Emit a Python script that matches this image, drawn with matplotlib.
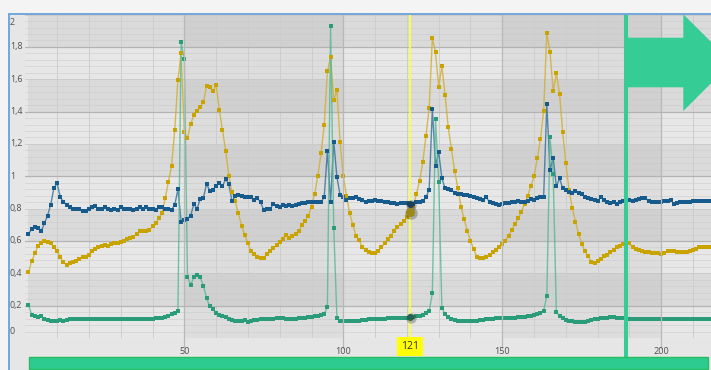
import numpy as np
import matplotlib
matplotlib.use("Agg")
import matplotlib.pyplot as plt
from matplotlib.patches import Rectangle, Polygon
from matplotlib.lines import Line2D
import matplotlib.transforms as mtransforms

plt.rcParams['font.family'] = ['Open Sans', 'DejaVu Sans']

# ---------------- data ----------------
x_start = 1
blue = [0.643, 0.674, 0.689, 0.680, 0.660, 0.709, 0.757, 0.825, 0.928, 0.957,
        0.870, 0.843, 0.823, 0.812, 0.798, 0.798, 0.798, 0.787, 0.787, 0.800,
        0.810, 0.814, 0.800, 0.800, 0.810, 0.800, 0.794, 0.795, 0.790, 0.810,
        0.800, 0.800, 0.795, 0.790, 0.800, 0.810, 0.798, 0.810, 0.800, 0.798,
        0.794, 0.812, 0.808, 0.800, 0.798, 0.794, 0.823, 0.920, 0.720, 0.732,
        0.736, 0.757, 0.829, 0.798, 0.860, 0.866, 0.952, 0.911, 0.917, 0.942,
        0.959, 0.938, 0.983, 0.950, 0.845, 0.880, 0.886, 0.880, 0.874, 0.874,
        0.874, 0.853, 0.866, 0.839, 0.790, 0.798, 0.798, 0.829, 0.818, 0.808,
        0.823, 0.814, 0.825, 0.818, 0.823, 0.829, 0.833, 0.833, 0.839, 0.843,
        0.843, 0.839, 0.839, 0.870, 1.159, 0.839, 1.214, 0.994, 0.884, 0.870,
        0.853, 0.866, 0.866, 0.870, 0.860, 0.853, 0.839, 0.849, 0.845, 0.853,
        0.849, 0.845, 0.839, 0.839, 0.833, 0.833, 0.829, 0.835, 0.835, 0.835,
        0.829, 0.829, 0.839, 0.839, 0.845, 0.870, 0.917, 1.416, 1.066, 1.148,
        0.987, 0.926, 0.921, 0.917, 0.897, 0.890, 0.890, 0.886, 0.886, 0.876,
        0.870, 0.864, 0.860, 0.853, 0.870, 0.839, 0.833, 0.829, 0.825, 0.829,
        0.833, 0.835, 0.839, 0.839, 0.845, 0.843, 0.839, 0.849, 0.860, 0.855,
        0.864, 0.870, 0.874, 1.447, 1.039, 1.113, 0.938, 0.987, 0.926, 0.917,
        0.900, 0.895, 0.907, 0.897, 0.890, 0.874, 0.866, 0.860, 0.855, 0.849,
        0.870, 0.853, 0.839, 0.833, 0.839, 0.829, 0.839, 0.849, 0.851, 0.853,
        0.850, 0.855, 0.860, 0.864, 0.866, 0.845, 0.842, 0.839, 0.839, 0.839,
        0.845, 0.849, 0.853, 0.829, 0.835, 0.839, 0.839, 0.839, 0.842, 0.845,
        0.847, 0.849, 0.847, 0.845, 0.845]

gold = [0.406, 0.474, 0.524, 0.571, 0.585, 0.602, 0.592, 0.590, 0.560, 0.540,
        0.500, 0.468, 0.454, 0.462, 0.468, 0.478, 0.489, 0.499, 0.503, 0.515,
        0.536, 0.550, 0.561, 0.567, 0.575, 0.571, 0.581, 0.590, 0.585, 0.592,
        0.602, 0.612, 0.618, 0.627, 0.643, 0.660, 0.664, 0.664, 0.668, 0.690,
        0.710, 0.740, 0.775, 0.864, 0.967, 1.064, 1.288, 1.598, 1.760, 1.272,
        1.237, 1.323, 1.379, 1.406, 1.427, 1.457, 1.556, 1.554, 1.525, 1.565,
        1.412, 1.286, 1.159, 1.004, 0.900, 0.845, 0.771, 0.695, 0.637, 0.585,
        0.536, 0.520, 0.503, 0.495, 0.495, 0.520, 0.540, 0.557, 0.575, 0.596,
        0.612, 0.639, 0.618, 0.633, 0.643, 0.660, 0.699, 0.726, 0.757, 0.812,
        0.890, 1.004, 1.142, 1.319, 1.649, 1.736, 1.472, 1.534, 1.210, 1.000,
        0.880, 0.771, 0.700, 0.633, 0.606, 0.561, 0.544, 0.534, 0.528, 0.528,
        0.536, 0.561, 0.585, 0.612, 0.633, 0.664, 0.684, 0.705, 0.721, 0.746,
        0.781, 0.818, 0.890, 0.973, 1.086, 1.251, 1.422, 1.855, 1.767, 1.554,
        1.680, 1.505, 1.303, 1.169, 1.035, 0.930, 0.812, 0.736, 0.660, 0.602,
        0.550, 0.503, 0.495, 0.495, 0.499, 0.515, 0.530, 0.545, 0.560, 0.580,
        0.602, 0.633, 0.668, 0.705, 0.742, 0.781, 0.830, 0.880, 0.940, 1.000,
        1.111, 1.231, 1.402, 1.884, 1.771, 1.525, 1.639, 1.510, 1.272, 1.080,
        0.915, 0.804, 0.720, 0.643, 0.581, 0.536, 0.505, 0.470, 0.462, 0.478,
        0.490, 0.505, 0.515, 0.530, 0.545, 0.560, 0.571, 0.582, 0.592, 0.585,
        0.561, 0.550, 0.544, 0.536, 0.533, 0.530, 0.528, 0.528, 0.524, 0.520,
        0.528, 0.536, 0.540, 0.535, 0.530, 0.530, 0.530, 0.530, 0.537, 0.544,
        0.552, 0.561, 0.565, 0.565, 0.561]

green = [0.206, 0.144, 0.138, 0.128, 0.134, 0.117, 0.111, 0.107, 0.107, 0.107,
         0.111, 0.107, 0.113, 0.117, 0.115, 0.115, 0.117, 0.117, 0.115, 0.115,
         0.117, 0.117, 0.115, 0.115, 0.117, 0.115, 0.115, 0.117, 0.117, 0.115,
         0.117, 0.117, 0.117, 0.115, 0.117, 0.117, 0.117, 0.117, 0.119, 0.119,
         0.121, 0.124, 0.126, 0.130, 0.136, 0.148, 0.155, 0.169, 1.829, 1.725,
         0.375, 0.330, 0.375, 0.390, 0.375, 0.324, 0.247, 0.196, 0.179, 0.155,
         0.142, 0.134, 0.128, 0.117, 0.111, 0.107, 0.107, 0.103, 0.111, 0.097,
         0.107, 0.111, 0.111, 0.117, 0.117, 0.115, 0.117, 0.120, 0.122, 0.124,
         0.122, 0.120, 0.117, 0.117, 0.120, 0.122, 0.124, 0.126, 0.128, 0.132,
         0.135, 0.138, 0.143, 0.150, 0.190, 1.927, 0.680, 0.124, 0.107, 0.107,
         0.105, 0.103, 0.103, 0.105, 0.107, 0.111, 0.113, 0.115, 0.117, 0.117,
         0.117, 0.119, 0.120, 0.122, 0.124, 0.124, 0.124, 0.124, 0.124, 0.126,
         0.128, 0.130, 0.133, 0.138, 0.145, 0.152, 0.165, 0.276, 1.354, 0.963,
         0.186, 0.148, 0.128, 0.117, 0.111, 0.107, 0.105, 0.103, 0.103, 0.103,
         0.105, 0.107, 0.109, 0.111, 0.115, 0.117, 0.120, 0.122, 0.122, 0.122,
         0.124, 0.124, 0.124, 0.126, 0.128, 0.130, 0.132, 0.134, 0.138, 0.142,
         0.148, 0.153, 0.169, 0.262, 1.241, 1.014, 0.163, 0.134, 0.122, 0.111,
         0.107, 0.103, 0.100, 0.097, 0.097, 0.100, 0.105, 0.110, 0.115, 0.120,
         0.124, 0.126, 0.126, 0.128, 0.128, 0.126, 0.124, 0.122, 0.120, 0.119,
         0.118, 0.118, 0.117, 0.117, 0.117, 0.117, 0.117, 0.118, 0.118, 0.117,
         0.117, 0.117, 0.118, 0.117, 0.117, 0.117, 0.117, 0.117, 0.117, 0.118,
         0.117, 0.117, 0.117, 0.117, 0.117]

cursor_x = 121
cursor_label = "121"
marker_x = 189
y_ticks = [0, 0.2, 0.4, 0.6, 0.8, 1.0, 1.2, 1.4, 1.6, 1.8, 2.0]
y_tick_labels = ["0", "0,2", "0,4", "0,6", "0,8", "1", "1,2", "1,4", "1,6", "1,8", "2"]
x_ticks = [50, 100, 150, 200]
x_tick_labels = ["50", "100", "150", "200"]

# ---------------- layout ----------------
W, H = 711, 370
def fx(px):
    return px / W
def fy(py):
    return 1 - py / H

n = min(len(blue), len(gold), len(green))
x = np.arange(x_start, x_start + n)

fig = plt.figure(figsize=(W / 100, H / 100), dpi=100, facecolor='#f4f4f4')

# widget frame
fig.patches.append(Rectangle((fx(9), fy(375)), fx(720) - fx(9), fy(14) - fy(375),
                             transform=fig.transFigure, facecolor='#e6e6e6',
                             edgecolor='#72a7d8', lw=1.4, zorder=-5))

ax_left, ax_right, ax_top, ax_bottom = 25.3, 711, 14.6, 338
ax = fig.add_axes([fx(ax_left), fy(ax_bottom), fx(ax_right) - fx(ax_left), fy(ax_top) - fy(ax_bottom)])
ax.set_xlim(0, (ax_right - ax_left) / 3.18)
ax.set_ylim(0, 2)
ax.set_facecolor('#e7e7e7')
for s in ax.spines.values():
    s.set_visible(False)
ax.set_xticks([])
ax.set_yticks([])

xmax = ax.get_xlim()[1]
band_start = 0.85 / xmax
# horizontal bands
for y0 in np.arange(0.2, 2.0, 0.4):
    ax.axhspan(y0, y0 + 0.2, xmin=band_start, color='black', alpha=0.055, lw=0, zorder=0)
# vertical bands
for a in (50, 150):
    ax.axvspan(a, a + 50, color='black', alpha=0.045, lw=0, zorder=0)

# minor horizontal grid
for yv in np.arange(0.04, 2.0, 0.04):
    if abs(yv / 0.2 - round(yv / 0.2)) > 1e-6:
        ax.axhline(yv, color='#c9c9c9', lw=0.5, alpha=0.7, zorder=0.5)
for i, yv in enumerate(y_ticks):
    if i % 2 == 1:
        ax.axhline(yv, color='#b3b3b3', lw=0.9, zorder=0.6)
    else:
        ax.axhline(yv, color='#cacaca', lw=0.6, zorder=0.6)
# vertical grid
for xv in range(10, int(xmax) + 1, 10):
    if xv % 50 == 0:
        continue
    ax.axvline(xv, color='#cdcdcd', lw=0.7, zorder=0.5)
trans_xfig = mtransforms.blended_transform_factory(ax.transData, fig.transFigure)
for xv in x_ticks:
    fig.add_artist(Line2D([xv, xv], [fy(ax_top), fy(348)], transform=trans_xfig,
                          color='#b8b8b8', lw=0.9, zorder=0.7))

# ---------------- series ----------------
series = [(gold, '#c9a300', '#d0ad2c'),
          (blue, '#175a8c', '#2f6d9c'),
          (green, '#2a9c7a', '#52b893')]
for vals, mcol, lcol in series:
    v = np.asarray(vals[:n])
    ax.plot(x, v, color=lcol, lw=1.0, alpha=0.8, zorder=2)
    ax.plot(x, v, ls='none', marker='s', ms=2.5, color=mcol, mew=0, zorder=2.5)

# cursor line
ax.axvline(cursor_x, color='#ffff3c', lw=1.3, zorder=3)
ci = cursor_x - x_start
for vals, col, size in [(gold, '#9c8a18', 6.5), (blue, '#1c3f5e', 5.0), (green, '#25644f', 5.0)]:
    yv = vals[ci]
    ax.plot([cursor_x + 0.35], [yv - 0.006], 'o', ms=size + 2.5, color='#202020', alpha=0.28, mew=0, zorder=3.5)
    ax.plot([cursor_x], [yv], 'o', ms=size, color=col, mew=0, zorder=4)

# cursor label
cx_px = ax.transData.transform((cursor_x, 0))[0]
fig.patches.append(Rectangle((fx(cx_px - 12.7), fy(355.7)), 25.3 / W, 19 / H,
                             transform=fig.transFigure, facecolor='#ffff00', lw=0, zorder=5))
fig.text(fx(cx_px), fy(346.5), cursor_label, ha='center', va='center', fontsize=7.5,
         color='#333333', zorder=6)

# green marker line + arrow
mx_px = ax.transData.transform((marker_x, 0))[0]
fig.add_artist(Line2D([marker_x, marker_x], [fy(14.5), fy(357)], transform=trans_xfig,
                      color='#35cc96', lw=2.9, zorder=5, solid_capstyle='butt'))
arrow_px = [(mx_px, 37.7), (683.3, 37.7), (683.3, 14.3), (731.8, 62.5),
            (683.3, 111), (683.3, 87.3), (mx_px, 87.3)]
fig.patches.append(Polygon([(fx(a), fy(b)) for a, b in arrow_px], closed=True,
                           transform=fig.transFigure, facecolor='#35cc96', lw=0, zorder=5))

# bottom green bar
fig.patches.append(Rectangle((fx(29), fy(369)), fx(708) - fx(29), fy(357) - fy(369),
                             transform=fig.transFigure, facecolor='#2ecb90',
                             edgecolor='#25bd62', lw=1.0, zorder=5))

# tick labels
for yv, lab in zip(y_ticks, y_tick_labels):
    py = ax_bottom - (ax_bottom - ax_top) * yv / 2.0
    if yv == 0:
        py = 331.7
    elif yv == 2.0:
        py = 22.7
    fig.text(fx(10), fy(py), lab, ha='left', va='center', fontsize=6.4, color='#505050')
for xv, lab in zip(x_ticks, x_tick_labels):
    fig.text(0, fy(352), lab, transform=trans_xfig, ha='center', va='center',
             fontsize=6.6, color='#505050')
    fig.texts[-1].set_x(xv)

fig.savefig('out.png', dpi=100, facecolor=fig.get_facecolor())
